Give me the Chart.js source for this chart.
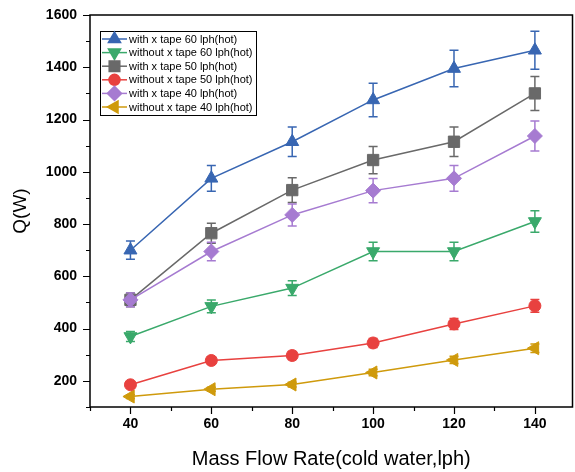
<!DOCTYPE html>
<html><head><meta charset="utf-8">
<script src="https://cdn.jsdelivr.net/npm/chart.js@4.4.1/dist/chart.umd.min.js"></script>
<style>html,body{margin:0;padding:0;background:#fff;}#wrap{width:575px;height:472px;}</style>
</head><body><div id="wrap"><canvas id="c" width="575" height="472"></canvas></div>
<script>
// ---- data ----
const flowRates = [40, 60, 80, 100, 120, 140];
const seriesNames = [
  'with x tape 60 lph(hot)',
  'without x tape 60 lph(hot)',
  'with x tape 50 lph(hot)',
  'without x tape 50 lph(hot)',
  'with x tape 40 lph(hot)',
  'without x tape 40 lph(hot)'
];
const withTape60    = [700, 975, 1115, 1275, 1395, 1465];
const withoutTape60 = [370, 485, 555, 695, 695, 810];
const withTape50    = [510, 765, 930, 1045, 1115, 1300];
const withoutTape50 = [185, 278, 297, 345, 418, 487];
const withTape40    = [510, 695, 835, 928, 975, 1137];
const withoutTape40 = [140, 168, 186, 232, 280, 325];

const errWithTape60    = [35, 49, 56, 64, 70, 73];
const errWithoutTape60 = [19, 24, 28, 35, 35, 41];
const errWithTape50    = [26, 38, 47, 52, 56, 65];
const errWithoutTape50 = [9, 14, 15, 17, 21, 24];
const errWithTape40    = [26, 35, 42, 46, 49, 57];
const errWithoutTape40 = [7, 8, 9, 12, 14, 16];

const yTickLabels = [200, 400, 600, 800, 1000, 1200, 1400, 1600];
const xTickLabels = [40, 60, 80, 100, 120, 140];
const xTickValues = [30, 40, 50, 60, 70, 80, 90, 100, 110, 120, 130, 140];

// ---- styles ----
const FONT = '"Liberation Sans", Arial, sans-serif';
const styles = [
  {color: '#3866b2', pointStyle: 'triangle', rotation: 0,   radius: 7.5},
  {color: '#3aa96b', pointStyle: 'triangle', rotation: 180, radius: 7.5},
  {color: '#696969', pointStyle: 'rect',     rotation: 0,   radius: 8},
  {color: '#e8413f', pointStyle: 'circle',   rotation: 0,   radius: 6},
  {color: '#a67bd1', pointStyle: 'rectRot',  rotation: 0,   radius: 7.5},
  {color: '#cf9a0c', pointStyle: 'triangle', rotation: 270, radius: 7.5}
];
const values = [withTape60, withoutTape60, withTape50, withoutTape50, withTape40, withoutTape40];
const errors = [errWithTape60, errWithoutTape60, errWithTape50, errWithoutTape50, errWithTape40, errWithoutTape40];

const inList = (list, v) => list.some(a => Math.abs(a - v) < 1e-6);
const labelFor = list => v => { const m = list.find(a => Math.abs(a - v) < 1e-6); return m === undefined ? '' : String(m); };

const datasets = values.map((vals, i) => ({
  label: seriesNames[i],
  data: flowRates.map((x, j) => ({x: x, y: vals[j]})),
  errors: errors[i],
  borderColor: styles[i].color,
  backgroundColor: styles[i].color,
  pointBackgroundColor: styles[i].color,
  pointBorderColor: styles[i].color,
  pointStyle: styles[i].pointStyle,
  pointRotation: styles[i].rotation,
  pointRadius: styles[i].radius,
  pointBorderWidth: 1,
  borderWidth: 1.5,
  tension: 0,
  fill: false,
  order: i === 4 ? 0 : 1
}));

const errorBars = {
  id: 'errorBars',
  beforeDatasetsDraw(chart) {
    const {ctx, scales: {x, y}} = chart;
    ctx.save();
    chart.data.datasets.forEach((ds) => {
      ctx.strokeStyle = ds.borderColor;
      ctx.lineWidth = 1.5;
      ds.data.forEach((p, j) => {
        const e = ds.errors[j];
        const px = x.getPixelForValue(p.x);
        const pt = y.getPixelForValue(p.y + e);
        const pb = y.getPixelForValue(p.y - e);
        ctx.beginPath();
        ctx.moveTo(px, pt); ctx.lineTo(px, pb);
        ctx.moveTo(px - 4.5, pt); ctx.lineTo(px + 4.5, pt);
        ctx.moveTo(px - 4.5, pb); ctx.lineTo(px + 4.5, pb);
        ctx.stroke();
      });
    });
    ctx.restore();
  }
};

const frameAndTicks = {
  id: 'frameAndTicks',
  afterDraw(chart) {
    const {ctx, chartArea: a, scales: {x, y}} = chart;
    ctx.save();
    ctx.strokeStyle = '#000';
    ctx.lineWidth = 1.5;
    ctx.strokeRect(a.left, a.top, a.right - a.left, a.bottom - a.top);
    ctx.lineWidth = 1.2;
    ctx.beginPath();
    y.ticks.forEach(t => {
      const py = Math.round(y.getPixelForValue(t.value)) + 0.5;
      const len = inList(yTickLabels, t.value) ? 7 : 4;
      ctx.moveTo(a.left, py); ctx.lineTo(a.left - len, py);
    });
    x.ticks.forEach(t => {
      const px = Math.round(x.getPixelForValue(t.value)) + 0.5;
      const len = inList(xTickLabels, t.value) ? 7 : 4;
      ctx.moveTo(px, a.bottom); ctx.lineTo(px, a.bottom + len);
    });
    ctx.stroke();

    // legend
    const bx = 100, by = 31, bw = 156, bh = 84;
    ctx.fillStyle = '#fff';
    ctx.fillRect(bx, by, bw, bh);
    ctx.lineWidth = 1;
    ctx.strokeStyle = '#000';
    ctx.strokeRect(bx + 0.5, by + 0.5, bw, bh);
    chart.data.datasets.forEach((ds, i) => {
      const ry = 39 + i * 13.6;
      ctx.strokeStyle = ds.borderColor;
      ctx.lineWidth = 1.5;
      ctx.beginPath(); ctx.moveTo(102, ry); ctx.lineTo(127, ry); ctx.stroke();
      ctx.fillStyle = ds.borderColor;
      Chart.helpers.drawPoint(ctx, {pointStyle: ds.pointStyle, rotation: ds.pointRotation, radius: ds.pointRadius - 0.5, borderWidth: 1}, 114.5, ry);
      ctx.fillStyle = '#000';
      ctx.font = '11px ' + FONT;
      ctx.textBaseline = 'middle';
      ctx.textAlign = 'left';
      ctx.fillText(ds.label, 129, ry + 0.5);
    });
    ctx.restore();
  }
};

new Chart(document.getElementById('c'), {
  type: 'line',
  data: {datasets},
  plugins: [errorBars, frameAndTicks],
  options: {
    responsive: false,
    animation: false,
    layout: {autoPadding: false, padding: {top: 15, right: 2.5, left: 0, bottom: 0}},
    plugins: {legend: {display: false}, tooltip: {enabled: false}},
    scales: {
      x: {
        type: 'linear', min: 30, max: 149.3,
        afterBuildTicks: s => { s.ticks = xTickValues.map(v => ({value: v})); },
        afterFit: s => { s.height = 65; s.paddingLeft = 0; s.paddingRight = 0; },
        ticks: {autoSkip: false, maxRotation: 0, padding: 9,
          color: '#000', font: {family: FONT, size: 14, weight: 'bold'},
          callback: labelFor(xTickLabels)},
        grid: {display: true, drawOnChartArea: false, drawTicks: false},
        border: {display: false},
        title: {display: true, text: 'Mass Flow Rate(cold water,lph)', color: '#000',
          font: {family: FONT, size: 20}, padding: {top: 0, bottom: 1}}
      },
      y: {
        type: 'linear', min: 100, max: 1600,
        afterFit: s => { s.width = 90; s.paddingTop = 0; s.paddingBottom = 0; },
        ticks: {stepSize: 100, autoSkip: false, padding: 13,
          color: '#000', font: {family: FONT, size: 14, weight: 'bold'},
          callback: labelFor(yTickLabels)},
        grid: {display: true, drawOnChartArea: false, drawTicks: false},
        border: {display: false},
        title: {display: true, text: 'Q(W)', color: '#000',
          font: {family: FONT, size: 19}, padding: {top: 9, bottom: 0}}
      }
    }
  }
});
</script></body></html>
